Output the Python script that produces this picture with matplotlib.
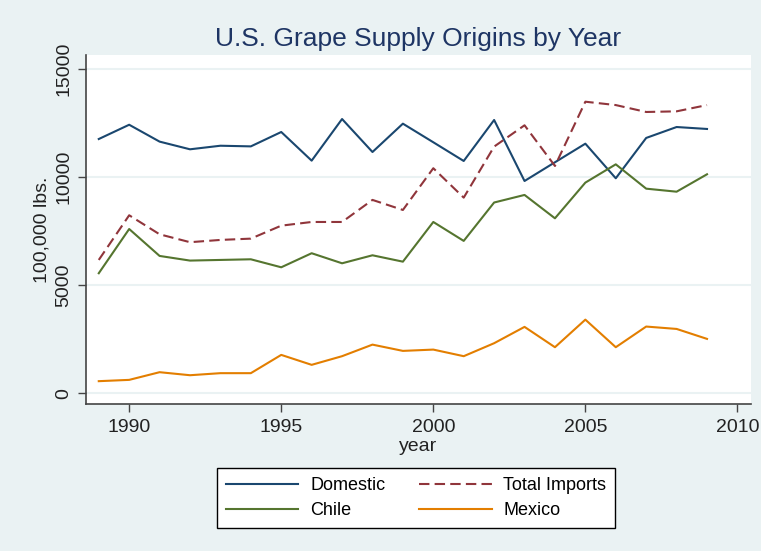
import matplotlib.pyplot as plt
import numpy as np

plt.rcParams['font.family'] = ['Liberation Sans', 'DejaVu Sans']

years = np.arange(1989, 2010)
domestic = [11750, 12410, 11630, 11275, 11440, 11410, 12075, 10750, 12675, 11150,
            12460, 11600, 10735, 12630, 9810, 10675, 11535, 9935, 11800, 12305, 12215]
total_imports = [6160, 8225, 7345, 6980, 7085, 7145, 7745, 7915, 7915, 8935,
                 8470, 10400, 9040, 11400, 12385, 10505, 13475, 13320, 13000, 13030, 13320]
chile = [5545, 7590, 6345, 6130, 6160, 6190, 5820, 6470, 6005, 6375,
         6080, 7915, 7040, 8815, 9165, 8085, 9735, 10580, 9455, 9315, 10120]
mexico = [555, 615, 970, 830, 925, 925, 1770, 1310, 1710, 2245,
          1955, 2015, 1710, 2310, 3065, 2125, 3400, 2125, 3080, 2970, 2510]

bg = '#eaf2f3'
fig = plt.figure(figsize=(7.61, 5.51), dpi=100, facecolor=bg)
ax = fig.add_axes([0.113, 0.267, 0.874, 0.633])
ax.set_facecolor('white')

l1, = ax.plot(years, domestic, color='#1a476f', lw=1.5, label='Domestic')
l2, = ax.plot(years, total_imports, color='#90353b', lw=1.5, ls=(0, (5, 2.5)), label='Total Imports')
l3, = ax.plot(years, chile, color='#55752f', lw=1.5, label='Chile')
l4, = ax.plot(years, mexico, color='#e37e00', lw=1.5, label='Mexico')

ax.set_xlim(1988.58, 2010.45)
ax.set_ylim(-495, 15630)
ax.set_xticks([1990, 1995, 2000, 2005, 2010])
ax.set_yticks([0, 5000, 10000, 15000])
ax.set_yticklabels(['0', '5000', '10000', '15000'], rotation=90, va='center')
ax.tick_params(labelsize=14, length=6, width=1, color='#444444', labelcolor='#222222')
ax.tick_params(axis='x', pad=5)
ax.tick_params(axis='y', pad=4)
ax.yaxis.grid(True, color=bg, lw=1.5)
ax.set_axisbelow(True)
for s in ['top', 'right']:
    ax.spines[s].set_visible(False)
for s in ['left', 'bottom']:
    ax.spines[s].set_color('#444444')
    ax.spines[s].set_linewidth(1.2)

ax.set_xlabel('year', fontsize=14, labelpad=1, color='#222222')
ax.set_ylabel('100,000 lbs.', fontsize=14, labelpad=3, color='#222222')
fig.text(0.549, 0.929, 'U.S. Grape Supply Origins by Year', ha='center', va='center',
         fontsize=19, color='#1e3564')

# matplotlib fills legend columns first, so order handles to read row-wise
leg = fig.legend(handles=[l1, l3, l2, l4], ncol=2, loc='center',
                 bbox_to_anchor=(0.547, 0.0955), fontsize=13, frameon=True,
                 fancybox=False, edgecolor='black', facecolor='white', framealpha=1,
                 handlelength=4.0, handletextpad=0.65, columnspacing=1.9,
                 borderpad=0.5, labelspacing=0.45)
leg.get_frame().set_linewidth(1.0)

plt.savefig('out.png', dpi=100, facecolor=bg)
